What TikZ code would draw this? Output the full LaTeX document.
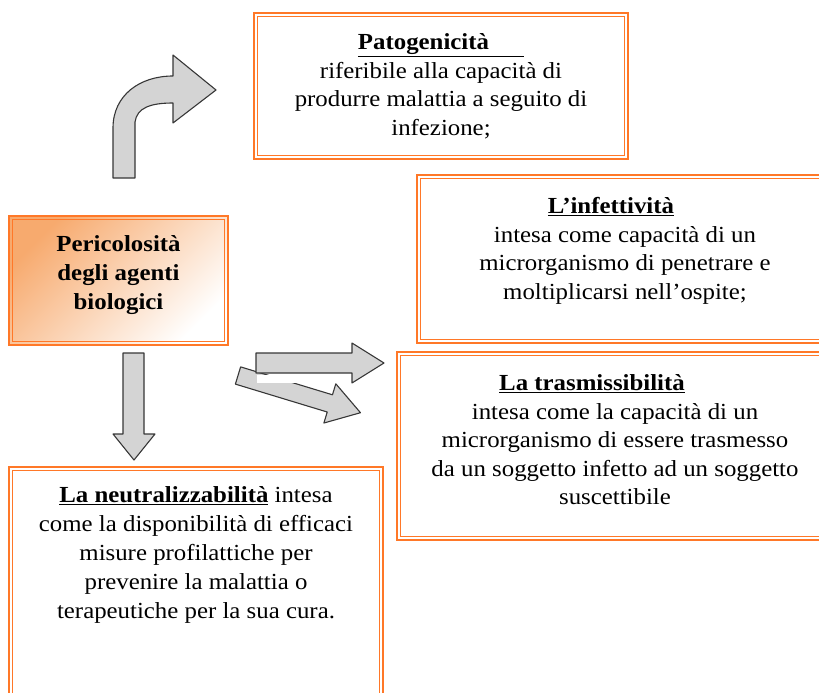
\documentclass[tikz,border=0pt]{standalone}
\usepackage{fontspec}
\setmainfont{Liberation Serif}[FakeStretch=1.08]
\definecolor{boxorange}{RGB}{255,120,40}
\definecolor{peach}{RGB}{247,170,110}
\definecolor{arrowgray}{RGB}{212,212,212}
\definecolor{arrowline}{RGB}{55,55,55}
\tikzset{
  frame/.style={draw=boxorange,line width=2.6pt,inner sep=0pt},
  inframe/.style={draw=boxorange,line width=1.3pt},
  blockarrow/.style={fill=arrowgray,draw=arrowline,line width=1.1pt,line join=round},
  txt/.style={align=center,inner sep=0pt,font=\fontsize{23}{28.5}\selectfont},
}
\begin{document}
\begin{tikzpicture}[x=1pt,y=-1pt]
  \useasboundingbox (0,0) rectangle (819,693);
  \clip (0,0) rectangle (819,693);
  % frames
  \node[frame,minimum width=374pt,minimum height=146pt] (patobox) at (441,86) {};
  \node[frame,minimum width=418pt,minimum height=168pt] (infbox) at (626,259) {};
  \node[frame,minimum width=438pt,minimum height=188pt] (trabox) at (616,446) {};
  \node[frame,minimum width=219pt,minimum height=129pt,top color=peach,middle color=peach!45!white,bottom color=white,shading angle=45] (peribox) at (118.5,280.5) {};
  \node[frame,minimum width=374pt,minimum height=238pt] (neubox) at (196,586) {};
  \foreach \b in {patobox,infbox,trabox,peribox,neubox}
    \draw[inframe] ([shift={(4.5,4.5)}]\b.north west) rectangle ([shift={(-4.5,-4.5)}]\b.south east);
  % texts
  \node[txt] (patotext) at (441,86.5) {\underline{\textbf{Patogenicità}\hspace*{35pt}}\\
    riferibile alla capacità di\\ produrre malattia a seguito di\\ infezione;};
  \node[txt,font=\bfseries\fontsize{23}{29}\selectfont] (peritext) at (118.5,275) {Pericolosità\\ degli agenti\\ biologici};
  \node[txt,font=\fontsize{23}{28.5}\selectfont] (inftext) at (625,251) {\underline{\textbf{L’infettività}}\hspace*{28pt}\\
    intesa come capacità di un\\ microrganismo di penetrare e\\ moltiplicarsi nell’ospite;};
  \node[txt] (tratext) at (615,440) {\underline{\textbf{La trasmissibilità}}\hspace*{46pt}\\
    intesa come la capacità di un\\ microrganismo di essere trasmesso\\ da un soggetto infetto ad un soggetto\\ suscettibile};
  \node[txt,font=\fontsize{23}{29}\selectfont] (neutext) at (196,555) {\underline{\textbf{La neutralizzabilità}} intesa\\
    come la disponibilità di efficaci\\ misure profilattiche per\\ prevenire la malattia o\\ terapeutiche per la sua cura.};
  % arrows
  \draw[blockarrow] (113,178) -- (113,128) .. controls (113,95) and (140,76) .. (173,76) -- (173,55) -- (216,90)
    -- (173,123) -- (173,103) .. controls (150,103) and (137,108) .. (135,122) -- (135,178) -- cycle;
  \draw[blockarrow] (123,353) -- (144,353) -- (144,434) -- (155,434) -- (134,460) -- (113,434) -- (123,434) -- cycle;
  \begin{scope}[shift={(238,375.5)},rotate=-16.9]
    \draw[blockarrow] (0,-9) -- (96,-9) -- (96,-20.5) -- (128,0) -- (96,20.5) -- (96,9) -- (0,9) -- cycle;
  \end{scope}
  \fill[white] (257,374.5) rectangle (300,383);
  \draw[blockarrow] (256,353) -- (352,353) -- (352,343) -- (384,363) -- (352,383) -- (352,373) -- (256,373) -- cycle;
\end{tikzpicture}
\end{document}
